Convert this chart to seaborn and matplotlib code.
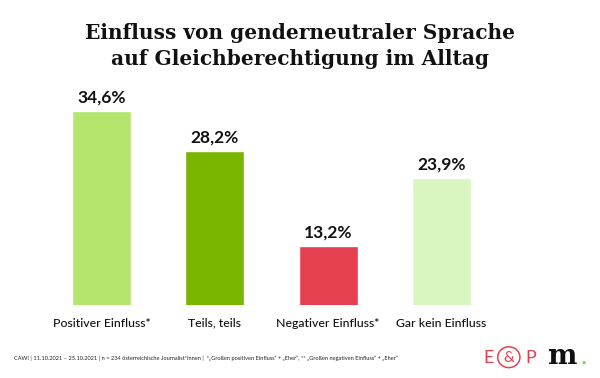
import matplotlib
matplotlib.use("Agg")
import matplotlib.pyplot as plt
import seaborn as sns
import pandas as pd
from matplotlib.patches import Ellipse

# Daten
kategorien = ["Positiver Einfluss*", "Teils, teils", "Negativer Einfluss*", "Gar kein Einfluss"]
anteile = [34.6, 28.2, 13.2, 23.9]
farben = ["#b5e56c", "#7ab500", "#e5404f", "#dbf5c1"]
wert_labels = ["34,6%", "28,2%", "13,2%", "23,9%"]

titel = "Einfluss von genderneutraler Sprache\nauf Gleichberechtigung im Alltag"
fussnote = ("CAWI | 11.10.2021 \u2013 25.10.2021 | n = 234 österreichische Journalist*innen |  "
            "*\u201eGroßen positiven Einfluss\u201c + \u201eEher\u201c, ** \u201eGroßen negativen Einfluss\u201c + \u201eEher\u201c")

sns.set_theme(style="white")
plt.rcParams["font.family"] = ["Lato", "DejaVu Sans"]

df = pd.DataFrame({"kategorie": kategorien, "anteil": anteile})

fig = plt.figure(figsize=(6, 3.78), dpi=100)
ax = fig.add_axes([0.075, 0.193, 0.755, 0.595])

sns.barplot(data=df, x="kategorie", y="anteil", hue="kategorie",
            palette=farben, width=0.52, legend=False, ax=ax, saturation=1)

ax.set_xlim(-0.5, 3.5)
ax.set_ylim(3.77, 39.5)   # Grundlinie wie im Original
for i, (v, lab) in enumerate(zip(anteile, wert_labels)):
    ax.annotate(lab, (i, v), xytext=(0, 4), textcoords="offset points",
                ha="center", va="bottom", fontsize=12.5, fontweight="bold", color="#111111")

ax.set_xlabel("")
ax.set_ylabel("")
ax.set_yticks([])
ax.tick_params(axis="x", length=0, pad=9, labelsize=8.8, labelcolor="#111111")
for t in ax.get_xticklabels():
    t.set_fontweight("medium")
sns.despine(ax=ax, left=True, bottom=True)

fig.text(0.5, 0.878, titel, ha="center", va="center", fontsize=14.5,
         fontweight="bold", family=["DejaVu Serif"], color="#111111", linespacing=1.4)

fig.text(0.023, 0.053, fussnote, ha="left", va="center", fontsize=4.1, color="#222222")

# Logos
rot = "#e5404f"
fig.text(0.815, 0.053, "E", ha="center", va="center", fontsize=13, color=rot)
fig.text(0.848, 0.053, "&", ha="center", va="center", fontsize=11, color=rot)
fig.patches.append(Ellipse((0.848, 0.055), 0.037, 0.055, transform=fig.transFigure,
                           fill=False, ec=rot, lw=1.1))
fig.text(0.885, 0.053, "P", ha="center", va="center", fontsize=13, color=rot)
fig.text(0.938, 0.058, "m", ha="center", va="center", fontsize=20, fontweight="bold",
         family=["DejaVu Serif"], color="#111111")
fig.text(0.973, 0.042, "\u25cf", ha="center", va="center", fontsize=5, color="#8fd14f")

fig.savefig("out.png", dpi=100)
